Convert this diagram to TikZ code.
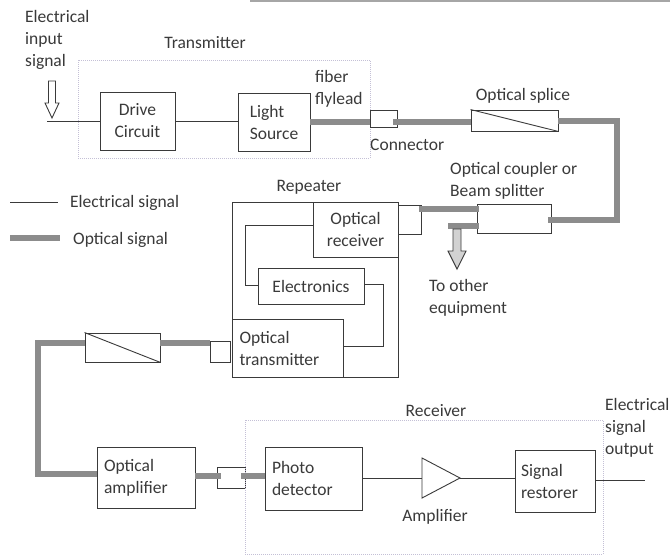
\documentclass[tikz,border=0pt]{standalone}
\usepackage{fontspec}
\setmainfont{Carlito}
\definecolor{ink}{HTML}{3A3A3A}
\definecolor{optc}{HTML}{8C8C8C}
\definecolor{dotc}{HTML}{C4C0D6}
\begin{document}
\begin{tikzpicture}[x=1pt,y=-1pt,
  every node/.style={font=\fontsize{17.5}{22}\selectfont, text=ink},
  box/.style={draw=ink, line width=0.9pt, inner sep=0pt, align=left},
  cbox/.style={box, align=center},
  elec/.style={draw=ink, line width=1pt},
  opt/.style={draw=optc, line width=6.5pt},
  dotbox/.style={draw=dotc, line width=1pt, densely dotted},
  lbl/.style={inner sep=0pt, align=left}]
\useasboundingbox (0,0) rectangle (670,557);
\fill[white] (0,0) rectangle (670,557);
\draw[gray!70, line width=2pt] (250,1) -- (670,1);

% ---------- labels ----------
\node[lbl, anchor=west] (lin) at (25,40) {Electrical\\input\\signal};
\node[lbl] (ltx) at (205,43) {Transmitter};
\node[lbl, anchor=west] (lfly) at (315,89) {fiber\\flylead};
\node[lbl, anchor=west] (lcon) at (370,145) {Connector};
\node[lbl] (lspl) at (523,96) {Optical splice};
\node[lbl, anchor=west] (lcpl) at (450,181) {Optical coupler or\\Beam splitter};
\node[lbl] (lrep) at (309,187) {Repeater};
\node[lbl, anchor=west] (loth) at (429,298) {To other\\equipment};
\node[lbl, anchor=west] (lle) at (70,203) {Electrical signal};
\node[lbl, anchor=west] (llo) at (73,240) {Optical signal};
\node[lbl] (lrcv) at (436,411) {Receiver};
\node[lbl] (lamp) at (435,517) {Amplifier};
\node[lbl, anchor=west] (lout) at (605,428) {Electrical\\signal\\output};

% ---------- legend ----------
\coordinate (le1) at (10,202); \coordinate (le2) at (58,202);
\coordinate (lo1) at (10,238); \coordinate (lo2) at (60,238);
\draw[elec] (le1) -- (le2);
\draw[opt] (lo1) -- (lo2);

% ---------- transmitter ----------
\draw[dotbox] (78,60) rectangle (370,158);
\node[cbox, minimum width=75pt, minimum height=58pt] (dc) at (137.5,121) {Drive\\Circuit};
\node[box, minimum width=72pt, minimum height=58pt] (ls) at (274,122) {Light\\Source};
\coordinate (in) at (47,121);
\draw[elec] (in) -- (dc.west);
\draw[elec] (dc.east) -- (dc.east -| ls.west);
% input hollow arrow
\draw[ink, line width=0.9pt, fill=white]
  (48.5,81) -- (55.5,81) -- (55.5,103) -- (59,103) -- (52,118) -- (45,103) -- (48.5,103) -- cycle;

% connector + splice
\node[box, minimum width=27pt, minimum height=17pt] (c1) at (383.5,119) {};
\node[box, minimum width=87pt, minimum height=21pt] (sp) at (514.5,120.5) {};
\draw[ink, line width=0.9pt] (sp.north west) -- (sp.south east);
\draw[opt] (ls.east) -- (ls.east -| c1.west);
\draw[opt] ([xshift=-4pt]c1.east |- ls.east) -- (sp.west |- ls.east);

% coupler
\node[box, minimum width=74pt, minimum height=29pt] (cp) at (514,218.5) {};
\coordinate (k1) at (617,121);
\coordinate (k2) at (617,220);
\draw[opt, line join=miter] (sp.east |- k1) -- (k1) -- (k2) -- ([xshift=-3pt]k2 -| cp.east);

% ---------- repeater ----------
\node[box, minimum width=166pt, minimum height=175pt] (rep) at (315,289.5) {};
\node[cbox, minimum width=85pt, minimum height=55pt] (orx) at (355.5,229.5) {Optical\\receiver};
\node[cbox, minimum width=106pt, minimum height=36pt] (el) at (311,286) {Electronics};
\node[box, minimum width=111pt, minimum height=58pt, text width=96pt] (otx) at (287.5,348) {Optical\\transmitter};
\node[box, minimum width=23pt, minimum height=29pt] (c2) at (409.5,219.5) {};
\coordinate (cpa) at (479,209);
\draw[opt] (cpa) -- ([xshift=-2pt]cpa -| c2.east);
\coordinate (cpb) at (479,226);
\coordinate (cpc) at (448,226);
\draw[opt] (cpb) -- (cpc);
% to other equipment arrow
\draw[ink, line width=0.9pt, fill=gray!35]
  (453,229) -- (461,229) -- (461,251) -- (466,251) -- (457,269) -- (448,251) -- (453,251) -- cycle;

\coordinate (w1) at (245,225); \coordinate (w2) at (245,285);
\draw[elec] (w1 -| orx.west) -- (w1) -- (w2) -- (w2 -| el.west);
\coordinate (w3) at (383,284); \coordinate (w4) at (383,346);
\draw[elec] (w3 -| el.east) -- (w3) -- (w4) -- (w4 -| otx.east);

\node[box, minimum width=20pt, minimum height=21pt] (c3) at (220,351.5) {};
\node[box, minimum width=75pt, minimum height=29pt] (sp2) at (122.5,347.5) {};
\draw[ink, line width=0.9pt] (sp2.north west) -- (sp2.south east);
\coordinate (s2) at (210,343);
\draw[opt] (s2) -- (s2 -| sp2.east);

% ---------- amplifier chain ----------
\node[box, minimum width=98pt, minimum height=61pt, text width=84pt] (oa) at (146,477.5) {Optical\\amplifier};
\coordinate (k3) at (38,343);
\coordinate (k4) at (38,474);
\draw[opt, line join=miter] (k3 -| sp2.west) -- (k3) -- (k4) -- (k4 -| oa.west);
\node[box, minimum width=28pt, minimum height=21pt] (c4) at (231,477.5) {};
\coordinate (o1) at (195,476);
\draw[opt] (o1) -- ([xshift=4pt]o1 -| c4.west);

% ---------- receiver ----------
\draw[dotbox] (245,420) rectangle (603,554);
\node[box, minimum width=97pt, minimum height=63pt, text width=83pt] (pd) at (313.5,478.5) {Photo\\detector};
\draw[opt] ([xshift=-4pt]c4.east |- o1) -- (pd.west |- o1);
\coordinate (ai) at (422,478);
\coordinate (ao) at (460,478);
\draw[ink, line width=0.9pt, fill=white] (422,458) -- (ao) -- (422,498) -- cycle;
\node[box, minimum width=80pt, minimum height=62pt, text width=68pt] (sr) at (555,481) {Signal\\restorer};
\draw[elec] (pd.east |- ai) -- (ai);
\draw[elec] (ao) -- (ao -| sr.west);
\coordinate (out) at (645,480);
\draw[elec] (sr.east |- out) -- (out);
\end{tikzpicture}
\end{document}
